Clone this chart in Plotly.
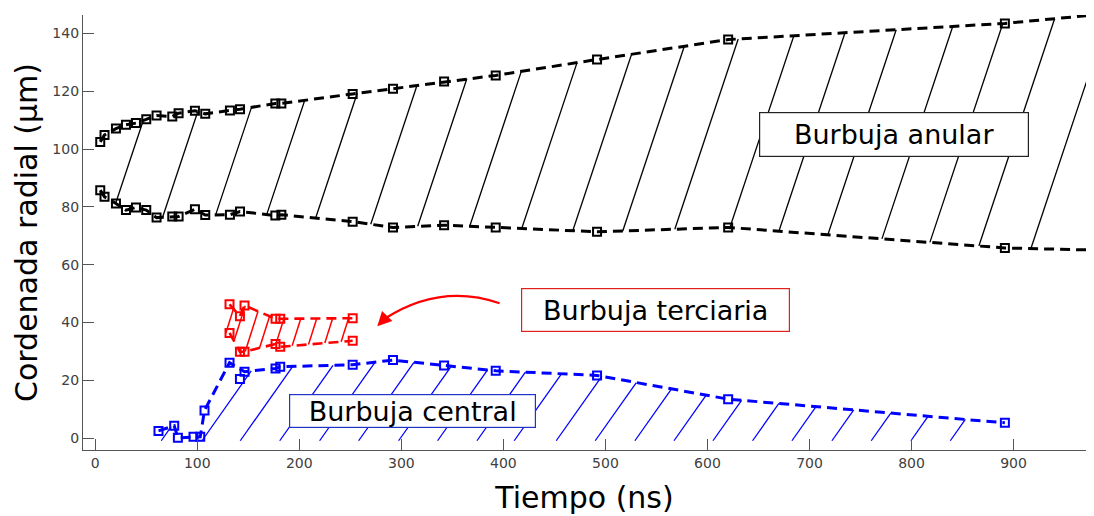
import numpy as np
import plotly.graph_objects as go

# ---------------- data ----------------
# Burbuja anular (black): time (ns), outer and inner radial coordinate (um)
anular_t = [4.9, 9.1, 20.3, 30.1, 39.9, 50.0, 60.1, 75.5, 81.7, 97.7, 107.8, 132.0, 141.9,
            176.5, 182.4, 252.3, 291.8, 341.9, 392.5, 491.8, 620.3, 891.5]
anular_up = [102.5, 104.9, 107.1, 108.4, 109.0, 110.3, 111.6, 111.3, 112.4, 113.3, 112.2,
             113.4, 113.8, 115.8, 115.8, 119.1, 120.9, 123.4, 125.5, 131.0, 137.9, 143.5]
anular_lo = [85.8, 83.5, 81.2, 78.9, 79.8, 78.9, 76.3, 76.7, 76.7, 79.2, 77.2, 77.3, 78.4,
             77.0, 77.3, 74.9, 72.9, 73.7, 72.9, 71.4, 72.9, 65.8]
# trend extension of the dashed envelopes beyond the last measurement
anular_ext_t = [1000]
anular_ext_up = [147.1]
anular_ext_lo = [64.9]
anular_hatch_t = [20, 66, 118, 168, 216, 270, 316, 367, 418, 468, 517, 568, 622, 670,
                  718, 771, 818, 866, 917]

# Burbuja terciaria (red)
terc_t = [131.6, 141.8, 146.3, 176.7, 181.3, 252.3]
terc_up = [46.3, 42.2, 45.9, 41.3, 41.3, 41.5]
terc_lo = [36.4, 29.9, 29.9, 32.6, 31.6, 33.7]
terc_hatch_t = [128, 136, 147, 161, 177, 193, 209, 225, 241]

# Burbuja central (blue)
central_t = [62.0, 77.4, 81.0, 96.3, 102.9, 107.1, 131.6, 141.8, 146.3, 176.7, 181.3,
             252.3, 291.8, 341.9, 392.5, 491.8, 620.3, 891.5]
central_r = [2.5, 4.3, 0.1, 0.5, 0.5, 9.6, 26.1, 20.5, 23.0, 24.1, 24.7,
             25.4, 27.0, 25.1, 23.3, 21.7, 13.5, 5.3]
central_line_skip = [141.8]
central_hatch_t = [64.7, 104.6, 142.1, 180.8, 219.9, 258.1, 297.3, 335.5, 374.1, 410.6,
                   451.8, 490.0, 528.9, 567.2, 605.4, 644.2, 682.8, 722.0, 760.5, 799.4, 838.0]
central_hatch_base = -0.9

x_ticks = [0, 100, 200, 300, 400, 500, 600, 700, 800, 900]
y_ticks = [0, 20, 40, 60, 80, 100, 120, 140]

# annotation anchors (data coords)
lbl_anular = (783.3, 104.9)
lbl_terc = (548.9, 44.45)
lbl_central = (310.7, 9.4)
arrow_path_pts = [(396.3, 46.7), (367.5, 50.2), (328.3, 51.5), (283.5, 41.3)]
arrow_tip = (276.4, 38.7)

# ---------------- helpers ----------------
def hatch(xb_list, base_fn, top_t, top_r, k):
    xs_all, ys_all = [], []
    for xb in xb_list:
        yb = base_fn(xb)
        ys = np.linspace(yb, yb + 200, 20001)
        xs = xb + k * (ys - yb)
        top = np.interp(xs, top_t, top_r)
        idx = np.argmax(ys >= top)
        xs_all += [xb, xs[idx], None]
        ys_all += [yb, ys[idx], None]
    return xs_all, ys_all

BLACK, RED, BLUE = "#000000", "#ff0000", "#0000ff"
DASH = "10px,6px"

fig = go.Figure()

# black envelopes
a_t = anular_t + anular_ext_t
a_up = anular_up + anular_ext_up
a_lo = anular_lo + anular_ext_lo
hx, hy = hatch(anular_hatch_t, lambda x: np.interp(x, a_t, a_lo), a_t, a_up, 0.944)
fig.add_trace(go.Scatter(x=hx, y=hy, mode="lines", line=dict(color=BLACK, width=1.3),
                         hoverinfo="skip"))

# red
hx, hy = hatch(terc_hatch_t, lambda x: np.interp(x, terc_t, terc_lo), terc_t, terc_up, 0.9)
fig.add_trace(go.Scatter(x=hx, y=hy, mode="lines", line=dict(color=RED, width=1.5),
                         hoverinfo="skip"))

# blue
c_line_t = [t for t in central_t if t not in central_line_skip]
c_line_r = [r for t, r in zip(central_t, central_r) if t not in central_line_skip]
hx, hy = hatch(central_hatch_t, lambda x: central_hatch_base, c_line_t, c_line_r, 2.0)
fig.add_trace(go.Scatter(x=hx, y=hy, mode="lines", line=dict(color=BLUE, width=1.3),
                         hoverinfo="skip"))

# dashed envelopes
for yy in (a_up, a_lo):
    fig.add_trace(go.Scatter(x=a_t, y=yy, mode="lines",
                             line=dict(color=BLACK, width=3, dash=DASH)))
for yy in (terc_up, terc_lo):
    fig.add_trace(go.Scatter(x=terc_t, y=yy, mode="lines",
                             line=dict(color=RED, width=2.6, dash=DASH)))
fig.add_trace(go.Scatter(x=c_line_t, y=c_line_r, mode="lines",
                         line=dict(color=BLUE, width=3, dash=DASH)))

# markers
mk = dict(symbol="square-open", size=8, line=dict(width=2))
for tt, yy, col in ((anular_t, anular_up, BLACK), (anular_t, anular_lo, BLACK),
                    (terc_t, terc_up, RED), (terc_t, terc_lo, RED),
                    (central_t, central_r, BLUE)):
    fig.add_trace(go.Scatter(x=tt, y=yy, mode="markers",
                             marker=dict(color=col, **mk), cliponaxis=False))

# curved arrow
p = arrow_path_pts
path = "M {},{} C {},{} {},{} {},{}".format(p[0][0], p[0][1], p[1][0], p[1][1],
                                             p[2][0], p[2][1], p[3][0], p[3][1])
fig.add_shape(type="path", path=path, xref="x", yref="y",
              line=dict(color=RED, width=2.2))
fig.add_annotation(x=arrow_tip[0], y=arrow_tip[1], ax=p[3][0], ay=p[3][1],
                   axref="x", ayref="y", text="", showarrow=True,
                   arrowhead=2, arrowsize=1.3, arrowwidth=2.2, arrowcolor=RED, standoff=0)

FONT = "DejaVu Sans"
def label(pos, text, border, w, h):
    fig.add_annotation(x=pos[0], y=pos[1], xref="x", yref="y", text=text, showarrow=False,
                       font=dict(family=FONT, size=27, color="black"),
                       bgcolor="white", bordercolor=border, borderwidth=1.2, borderpad=0,
                       width=w, height=h, align="center", valign="middle")

label(lbl_anular, "Burbuja anular", "#222222", 268, 43)
label(lbl_terc, "Burbuja terciaria", "#e02020", 267, 42)
label(lbl_central, "Burbuja central", "#2233cc", 245, 32)

axis_common = dict(showline=True, linecolor="#555555", linewidth=1.3, ticks="inside",
                   ticklen=11, tickwidth=1.2, tickcolor="#555555", showgrid=False,
                   zeroline=False,
                   tickfont=dict(family=FONT, size=14, color="#404040"))

# page body has an 8px default margin: figure is sized to fit the 1094x516 window
fig.update_layout(
    width=1078, height=508,
    margin=dict(l=75, r=0, t=7, b=66),
    paper_bgcolor="white", plot_bgcolor="white",
    showlegend=False,
    xaxis=dict(range=[-12, 971], tickvals=x_ticks, automargin=False,
               title=dict(text="Tiempo (ns)", font=dict(family=FONT, size=30, color="black"),
                          standoff=17),
               **axis_common),
    yaxis=dict(range=[-4.1, 146.4], tickvals=y_ticks, automargin=False,
               title=dict(text="Cordenada radial (µm)",
                          font=dict(family=FONT, size=30, color="black"), standoff=5),
               **axis_common),
)

fig.write_html("out.html")
